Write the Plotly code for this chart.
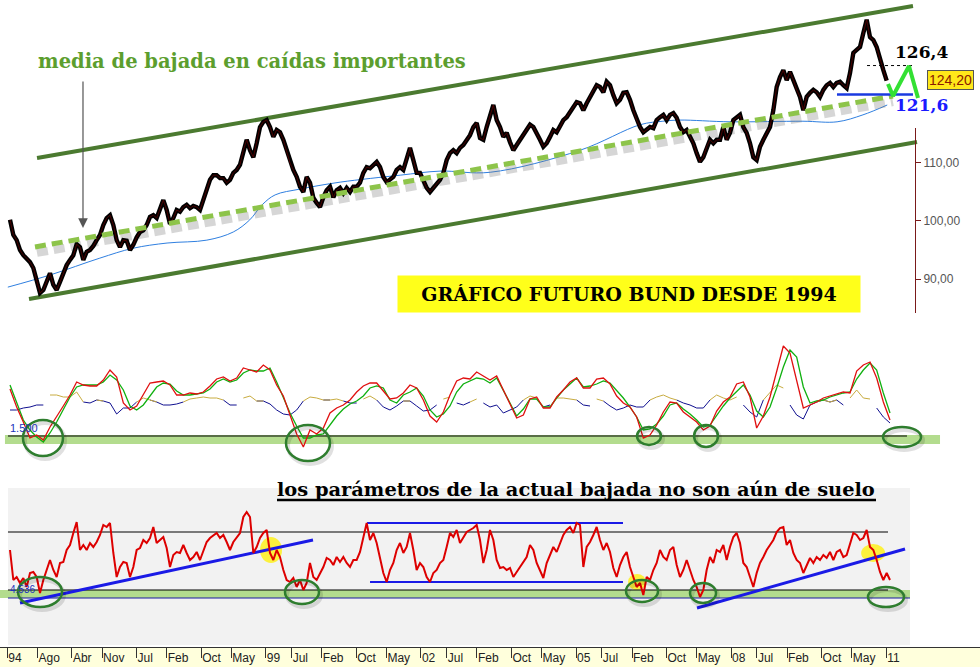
import plotly.graph_objects as go

# ---------------- time base ----------------
YEAR0 = 1993.8588          # decimal year at the left edge of the chart
BAR_YEARS = 0.064475       # one bar of the source chart in years
X_RANGE = [1993.8588, 2012.8143]

TICK_DATES = [(1994, 1), (1994, 8), (1995, 4), (1995, 11), (1996, 7), (1997, 2), (1997, 10),
              (1998, 5), (1999, 1), (1999, 7), (2000, 2), (2000, 10), (2001, 5), (2002, 1),
              (2002, 7), (2003, 2), (2003, 10), (2004, 5), (2005, 1), (2005, 7), (2006, 2),
              (2006, 10), (2007, 5), (2008, 1), (2008, 7), (2009, 2), (2009, 10), (2010, 5),
              (2011, 1)]
TICK_LABELS = ["94", "Ago", "Abr", "Nov", "Jul", "Feb", "Oct", "May", "99", "Jul", "Feb", "Oct",
               "May", "02", "Jul", "Feb", "Oct", "May", "05", "Jul", "Feb", "Oct", "May", "08",
               "Jul", "Feb", "Oct", "May", "11"]

# ---------------- top panel: Bund future ----------------
PRICE_FIRST_BAR = 3
PRICE = [100.2, 97.6, 96.7, 95.0, 94.1, 93.6, 92.9, 91.9, 89.8, 87.6,
         88.1, 89.5, 91.0, 89.0, 88.1, 89.5, 91.0, 92.4, 93.3, 94.1,
         96.0, 95.5, 93.3, 94.7, 95.0, 95.7, 96.7, 97.6, 99.3, 100.5,
         101.0, 99.3, 96.7, 95.5, 96.7, 96.6, 95.0, 95.9, 97.2, 98.1,
         98.4, 99.3, 100.7, 101.0, 100.5, 101.9, 103.6, 101.9, 99.5, 100.5,
         101.9, 101.6, 102.4, 102.8, 102.2, 102.6, 102.4, 101.9, 103.6, 105.3,
         107.1, 107.9, 107.9, 107.4, 107.4, 106.6, 107.1, 108.3, 108.8, 109.7,
         112.2, 114.0, 112.2, 111.0, 113.4, 116.2, 117.1, 117.4, 116.2, 114.5,
         115.7, 115.3, 114.0, 112.2, 110.0, 108.8, 107.6, 105.9, 105.0, 107.6,
         106.6, 104.0, 103.1, 102.4, 104.1, 105.3, 105.9, 104.1, 105.3, 105.7,
         104.8, 105.7, 105.0, 105.9, 105.9, 106.6, 108.3, 109.3, 109.1, 109.7,
         110.2, 109.3, 107.6, 106.7, 107.1, 107.6, 108.8, 109.3, 108.8, 110.5,
         112.6, 110.5, 108.3, 108.3, 107.1, 105.7, 105.0, 105.7, 106.2, 107.1,
         108.3, 110.5, 111.7, 112.2, 111.7, 112.6, 113.1, 114.0, 114.8, 116.2,
         116.9, 114.3, 114.0, 116.2, 117.9, 120.0, 117.4, 116.2, 114.5, 115.2,
         113.6, 112.2, 113.1, 114.0, 114.8, 115.7, 116.6, 116.2, 115.2, 114.0,
         112.8, 113.4, 114.5, 115.7, 115.3, 116.2, 117.4, 117.9, 118.8, 119.7,
         120.5, 120.3, 119.1, 120.3, 121.4, 122.6, 123.4, 123.1, 122.2, 124.0,
         123.4, 121.7, 120.3, 120.9, 122.1, 122.2, 120.9, 119.1, 117.4, 116.2,
         115.3, 115.7, 116.2, 116.0, 117.4, 117.9, 118.3, 117.4, 118.3, 118.6,
         117.8, 116.2, 115.3, 115.7, 114.5, 113.4, 111.7, 110.2, 111.0, 112.8,
         114.0, 113.4, 114.0, 114.0, 116.2, 114.0, 115.2, 117.4, 117.8, 118.3,
         116.2, 115.2, 113.4, 111.0, 110.5, 112.8, 114.0, 115.2, 116.2, 119.1,
         123.1, 124.8, 126.0, 124.3, 125.7, 124.3, 122.6, 121.4, 119.1, 121.4,
         122.1, 122.6, 122.2, 121.4, 122.6, 123.4, 123.8, 123.1, 123.8, 124.0,
         123.4, 122.9, 125.5, 129.0, 129.5, 130.0, 132.4, 134.7, 131.7, 131.2,
         130.0, 127.8, 126.0, 124.2]

MA_YEARS = [1994.01, 1994.83, 1995.79, 1996.43, 1997.09, 1997.86, 1998.37, 1998.69, 1998.93,
            1999.18, 1999.66, 2000.44, 2001.60, 2002.37, 2003.34, 2005.08, 2006.24, 2006.68,
            2007.01, 2007.98, 2009.39, 2010.05, 2010.55, 2011.02]
MA_VALUES = [88.6, 90.7, 93.6, 95.3, 96.2, 96.7, 98.1, 100.2, 102.8, 104.5, 105.5, 106.7, 107.9,
             108.6, 108.4, 112.2, 116.6, 117.2, 117.4, 117.1, 117.2, 117.1, 118.3, 120.0]

CHANNEL_UPPER_X = [1994.575, 2011.518]
CHANNEL_UPPER_Y = [110.86, 137.07]
CHANNEL_LOWER_X = [1994.420, 2011.596]
CHANNEL_LOWER_Y = [86.55, 113.62]
DOWN_AVG_X = [1994.536, 2011.132]
DOWN_AVG_Y = [95.52, 121.55]
SHADOW_X = [1994.575, 2011.132]
SHADOW_Y = [94.50, 120.50]
SUPPORT_LEVEL = 121.8
SUPPORT_X = [2010.048, 2011.518]
TARGET_LEVEL = 126.8
TARGET_X = [2010.629, 2011.518]
PATH_X = [2011.035, 2011.132, 2011.441, 2011.615]
PATH_Y = [123.62, 121.55, 126.72, 121.21]
ARROW_TIP = (1995.464, 98.8)
RIGHT_TICKS = [90, 100, 110]
RIGHT_TICK_TEXT = ["90,00", "100,00", "110,00"]
LAST_PRICE_TEXT = "124,20"

# ---------------- middle panel: oscillators ----------------
OSC_FIRST_BAR = 3
OSC_BAR_STEP = 2
OSC_RED = [1970, 1790, 1640, 1480, 1510, 1460, 1590, 1690, 1800, 1910,
           2040, 2010, 2000, 2000, 2060, 2160, 2090, 1830, 1760, 1800,
           1910, 2030, 2040, 2050, 2010, 1910, 1910, 1930, 1920, 1940,
           2000, 2070, 2090, 2050, 2080, 2180, 2160, 2140, 2210, 2160,
           2010, 1900, 1710, 1520, 1390, 1560, 1520, 1580, 1730, 1780,
           1810, 1860, 1940, 2000, 2030, 2030, 1950, 1870, 1880, 1930,
           2010, 1980, 1860, 1700, 1640, 1740, 1910, 2050, 2080, 2070,
           2140, 2100, 2060, 2100, 1960, 1830, 1680, 1710, 1870, 1890,
           1780, 1780, 1890, 1960, 2040, 2080, 1980, 1980, 2070, 2080,
           2020, 1900, 1830, 1790, 1690, 1480, 1510, 1610, 1740, 1840,
           1830, 1740, 1690, 1640, 1560, 1600, 1750, 1840, 1890, 2020,
           2040, 1890, 1580, 1700, 1890, 2160, 2400, 2330, 2070, 1780,
           1810, 1840, 1880, 1900, 1920, 1940, 1930, 2150, 2210, 2240,
           2080, 1840, 1660]
OSC_GREEN = [2010, 1840, 1660, 1560, 1490, 1440, 1530, 1640, 1760, 1890,
             1990, 2010, 2010, 2010, 2040, 2110, 2060, 1960, 1800, 1760,
             1810, 1900, 1990, 2030, 2020, 1950, 1910, 1910, 1920, 1930,
             1970, 2040, 2070, 2040, 2060, 2130, 2160, 2150, 2150, 2180,
             2040, 1880, 1730, 1600, 1480, 1480, 1510, 1520, 1610, 1700,
             1770, 1820, 1850, 1900, 1980, 2000, 1980, 1860, 1830, 1910,
             1940, 1980, 1900, 1760, 1690, 1720, 1800, 1940, 2020, 2050,
             2080, 2070, 2030, 2080, 1960, 1830, 1700, 1770, 1870, 1870,
             1790, 1790, 1880, 1960, 2020, 2080, 1990, 2000, 2020, 2050,
             2030, 1960, 1880, 1790, 1690, 1560, 1570, 1620, 1700, 1810,
             1830, 1770, 1720, 1660, 1590, 1610, 1710, 1800, 1880, 1950,
             2010, 1910, 1750, 1690, 1790, 1980, 2190, 2360, 2290, 1990,
             1830, 1850, 1860, 1890, 1910, 1930, 1940, 2070, 2160, 2230,
             2160, 1930, 1730]
OSC_SIGNAL = [1760, 1760, 1780, 1790, 1810, 1810, 1910, 1910, 1890, 1890,
              1940, 1840, 1830, 1860, 1850, 1830, 1720, 1780, 1780, 1840,
              1880, 1860, 1840, 1810, 1810, 1820, 1840, 1870, 1880, 1890,
              1880, 1880, 1860, 1810, 1810, 1880, 1900, 1850, 1850, 1820,
              1760, 1720, 1710, 1760, 1850, 1890, 1880, 1860, 1860, 1870,
              1850, 1830, 1830, 1870, 1900, 1860, 1790, 1760, 1800, 1850,
              1850, 1800, 1750, 1760, 1810, 1870, 1890, 1830, 1810, 1840,
              1870, 1830, 1790, 1810, 1730, 1760, 1790, 1860, 1900, 1880,
              1790, 1810, 1880, 1880, 1870, 1860, 1810, 1800, 1870, 1850,
              1800, 1760, 1780, 1810, 1790, 1790, 1860, 1890, 1910, 1880,
              1860, 1830, 1810, 1780, 1780, 1860, 1910, 1880, 1860, 1890,
              1810, 1740, 1690, 1860, 1930, 2010, 1980, 1810, 1710, 1670,
              1810, 1840, 1860, 1840, 1860, 1810, 1880, 1960, 1880, 1870,
              1780, 1690, 1630]
SIGNAL_SPLIT = 1845
OSC_LEVEL = 1500
OSC_BAND_LEVEL = 1465
OSC_LEVEL_X = [1994.013, 2011.402]
OSC_BAND_X = [1993.955, 2012.041]
OSC_CIRCLES = [(1994.690, 1480, 20, 18), (1999.816, 1430, 22, 18), (2006.412, 1500, 12, 9),
               (2007.515, 1500, 12, 11), (2011.306, 1490, 19, 10)]

# ---------------- bottom panel ----------------
RSI_FIRST_BAR = 3
RSI = [5000, 4700, 4730, 4670, 4720, 4630, 4770, 4780, 4730, 4570,
       4700, 4800, 4900, 4800, 4730, 4870, 4880, 5000, 5050, 5170,
       5280, 5000, 5050, 5000, 5070, 5030, 5080, 5150, 5250, 5230,
       5270, 4970, 4730, 4830, 4880, 4870, 4730, 4830, 5000, 5020,
       5100, 5070, 5120, 5230, 5070, 5100, 5130, 5020, 4830, 4950,
       4980, 4970, 5050, 4970, 4900, 4930, 4980, 4900, 5000, 5080,
       5120, 5150, 5170, 5120, 5150, 5080, 5000, 5080, 5130, 5170,
       5330, 5380, 5330, 4970, 5030, 5120, 5170, 5200, 4970, 4900,
       5000, 4930, 4800, 4700, 4680, 4720, 4630, 4700, 4600, 4670,
       4870, 4730, 4700, 4770, 4830, 4920, 4900, 4850, 4930, 4880,
       4930, 4870, 4830, 4900, 4900, 4980, 5120, 5270, 5100, 5170,
       5070, 4930, 4770, 4680, 4800, 4870, 5000, 5070, 4970, 5030,
       5170, 5000, 4800, 4870, 4830, 4730, 4680, 4770, 4800, 4870,
       4900, 5030, 5170, 5130, 5200, 5070, 5130, 5180, 5200, 5220,
       5250, 5100, 4870, 5000, 5200, 5100, 4900, 4820, 4830, 4800,
       4820, 4730, 4780, 4830, 4880, 4930, 5050, 5000, 4870, 4800,
       4720, 4870, 4950, 5030, 4980, 5070, 5150, 5200, 5230, 5170,
       5270, 5250, 4830, 5030, 5080, 5150, 5230, 5100, 5000, 5070,
       4980, 4820, 4730, 4850, 4930, 4980, 4830, 4730, 4630, 4670,
       4550, 4730, 4700, 4800, 4870, 5000, 4930, 4900, 5000, 5030,
       4850, 4730, 4800, 4900, 4800, 4700, 4630, 4530, 4600, 4800,
       4930, 4870, 5000, 4980, 5050, 4900, 5030, 5130, 5170, 5070,
       4870, 4830, 4730, 4630, 4770, 4870, 4930, 5000, 5050, 5100,
       5180, 5220, 5230, 5050, 5100, 4970, 4900, 4870, 4770, 4850,
       4920, 4870, 4930, 4900, 4950, 4920, 4980, 4900, 4980, 5000,
       4930, 4950, 5050, 5170, 5150, 5100, 5120, 5200, 5030, 5000,
       4900, 4780, 4700, 4770, 4700]
RSI_UPPER = 5180
RSI_LOWER = 4600
RSI_FLOOR = 4520
RSI_BAND = 4560
RSI_LEVEL_X = [1994.013, 2011.035]
RSI_FLOOR_X = [1994.013, 2011.460]
RSI_BAND_X = [1993.859, 2011.460]
TREND_LINES = [([1994.246, 1999.913], [4470, 5100], 3),
               ([2000.958, 2005.909], [5270, 5270], 2),
               ([2001.016, 2005.909], [4680, 4680], 2),
               ([2007.340, 2011.364], [4420, 5010], 3)]
RSI_CIRCLES = [(1994.633, 4580, 22, 15), (1999.700, 4580, 17, 12), (2006.277, 4590, 16, 11),
               (2007.457, 4570, 13, 10), (2010.996, 4530, 18, 10)]
HIGHLIGHTS = [(1999.101, 5000, 11, 13), (2006.180, 4680, 9, 8), (2010.747, 4970, 12, 9)]


def bars_to_years(first, n, step=1):
    return [YEAR0 + (first + step * k) * BAR_YEARS for k in range(n)]


W, H = 980, 667
SERIF = "DejaVu Serif"
SANS = "Liberation Sans"

fig = go.Figure()


def line(x, y, color, width, yaxis="y", dash=None, opacity=1.0, shape="linear"):
    fig.add_trace(go.Scatter(x=x, y=y, mode="lines", yaxis=yaxis, xaxis="x",
                             line=dict(color=color, width=width, dash=dash, shape=shape),
                             opacity=opacity, hoverinfo="skip", showlegend=False,
                             connectgaps=False))


# ---- top panel
px_years = bars_to_years(PRICE_FIRST_BAR, len(PRICE))
line(CHANNEL_UPPER_X, CHANNEL_UPPER_Y, "#4b7a30", 4)
line(CHANNEL_LOWER_X, CHANNEL_LOWER_Y, "#4b7a30", 4)
line(MA_YEARS, MA_VALUES, "#2f7fe0", 1, shape="spline")
line(SHADOW_X, SHADOW_Y, "#7a7a7a", 8, dash="11px,6px", opacity=0.3)
line(px_years, PRICE, "#000000", 4.4)
line(px_years, PRICE, "#8b0000", 0.9, opacity=0.6)
line(DOWN_AVG_X, DOWN_AVG_Y, "#8dc44a", 5, dash="11px,6px")
line(SUPPORT_X, [SUPPORT_LEVEL] * 2, "#1a3ae0", 2.5)
line(TARGET_X, [TARGET_LEVEL] * 2, "#000000", 1, dash="dot")
line(PATH_X, PATH_Y, "#33e033", 4)
# hidden trace to show the right-hand price axis
fig.add_trace(go.Scatter(x=[X_RANGE[0]], y=[100], yaxis="y4", xaxis="x", mode="markers",
                         marker=dict(opacity=0), hoverinfo="skip", showlegend=False))

# ---- middle panel
osc_years = bars_to_years(OSC_FIRST_BAR, len(OSC_RED), OSC_BAR_STEP)
line(OSC_BAND_X, [OSC_BAND_LEVEL] * 2, "#b3dc8e", 9, yaxis="y2")
line(OSC_LEVEL_X, [OSC_LEVEL] * 2, "#000000", 1.2, yaxis="y2")
sig_blue = [v if v <= SIGNAL_SPLIT + 15 else None for v in OSC_SIGNAL]
sig_olive = [v if v >= SIGNAL_SPLIT - 5 else None for v in OSC_SIGNAL]
line(osc_years, sig_blue, "#101090", 1, yaxis="y2")
line(osc_years, sig_olive, "#c8ac40", 1, yaxis="y2")
line(osc_years, OSC_GREEN, "#10b010", 1.3, yaxis="y2")
line(osc_years, OSC_RED, "#e01010", 1.3, yaxis="y2")

# ---- bottom panel
rsi_years = bars_to_years(RSI_FIRST_BAR, len(RSI))
line(RSI_BAND_X, [RSI_BAND] * 2, "#b3dc8e", 8, yaxis="y3")
line(RSI_LEVEL_X, [RSI_UPPER] * 2, "#000000", 1, yaxis="y3")
line(RSI_LEVEL_X, [RSI_LOWER] * 2, "#000000", 1, yaxis="y3")
line(RSI_FLOOR_X, [RSI_FLOOR] * 2, "#1a1aa0", 1, yaxis="y3")
for xs, ys, w in TREND_LINES:
    line(xs, ys, "#1a1ae6", w, yaxis="y3")
line(rsi_years, RSI, "#dd0000", 2, yaxis="y3")

# ---------------- shapes ----------------
shapes = []
# bottom panel grey background and date strip
shapes.append(dict(type="rect", xref="paper", yref="paper", x0=8 / W, x1=910 / W,
                   y0=1 - 645 / H, y1=1 - 488 / H, fillcolor="#f2f2f2", line=dict(width=0),
                   layer="below"))
shapes.append(dict(type="rect", xref="paper", yref="paper", x0=0, x1=1,
                   y0=0, y1=1 - 647 / H, fillcolor="#ffffdc", line=dict(width=0),
                   layer="below"))
# underline of the bottom title
shapes.append(dict(type="line", xref="paper", yref="paper", x0=277 / W, x1=876 / W,
                   y0=1 - 500 / H, y1=1 - 500 / H, line=dict(color="#000", width=2.5)))


def ellipse(cx, cy, rx, ry, yref, color, width, fill=None, layer="above", dx=0, dy=0):
    d = dict(type="circle", xref="x", yref=yref, xsizemode="pixel", ysizemode="pixel",
             xanchor=cx, yanchor=cy, x0=-rx + dx, x1=rx + dx, y0=-ry + dy, y1=ry + dy,
             line=dict(color=color, width=width), layer=layer)
    if fill:
        d["fillcolor"] = fill
    return d


for cx, cy, rx, ry in HIGHLIGHTS:
    shapes.append(ellipse(cx, cy, rx, ry, "y3", "rgba(0,0,0,0)", 0,
                          fill="rgba(255,240,0,0.75)", layer="below"))
for circles, yref in ((OSC_CIRCLES, "y2"), (RSI_CIRCLES, "y3")):
    for cx, cy, rx, ry in circles:
        shapes.append(ellipse(cx, cy, rx, ry, yref, "rgba(0,0,0,0.12)", 4, dx=2, dy=-3))
        shapes.append(ellipse(cx, cy, rx, ry, yref, "#2e7d2e", 2.5))

# ---------------- annotations ----------------
def note(text, x, y, size, color, family=SERIF, xanchor="center", **kw):
    d = dict(text=text, xref="paper", yref="paper", x=x / W, y=1 - y / H, showarrow=False,
             xanchor=xanchor, yanchor="middle", font=dict(family=family, size=size, color=color))
    d.update(kw)
    return d


ann = [
    note("<b>media de bajada en caídas importantes</b>", 252, 62, 19.5, "#5c9e2e"),
    dict(text="", xref="x", yref="y", x=ARROW_TIP[0], y=ARROW_TIP[1], ax=0, ay=-148,
         showarrow=True, arrowhead=2, arrowsize=1.6, arrowwidth=1.2, arrowcolor="#555"),
    note("<b>GRÁFICO FUTURO BUND DESDE 1994</b>", 629, 294, 19, "#000000",
         bgcolor="#ffff1a", width=446, height=20, borderpad=8),
    note("<b>126,4</b>", 921, 52, 17, "#000000"),
    note("<b>121,6</b>", 921, 105, 17, "#1a1aff"),
    note(LAST_PRICE_TEXT, 950, 79.5, 14, "#8b1a00", family=SANS, bgcolor="#ffe81a",
         bordercolor="#555", borderwidth=1, borderpad=1),
    note("1.500", 8, 428, 11, "#2233bb", family=SANS, xanchor="left"),
    note("4.536", 8, 589, 10, "#2233bb", family=SANS, xanchor="left"),
    note("<b>los parámetros de la actual bajada no son aún de suelo</b>", 576, 489, 19.4,
         "#000000"),
]

fig.update_layout(
    width=W, height=H, margin=dict(l=0, r=0, t=0, b=0, autoexpand=False),
    paper_bgcolor="#ffffff", plot_bgcolor="rgba(0,0,0,0)", showlegend=False,
    shapes=shapes, annotations=ann,
    xaxis=dict(domain=[0, 1], range=X_RANGE, anchor="y3", showgrid=False, zeroline=False,
               showline=True, linecolor="#333", linewidth=1, ticks="outside", ticklen=10,
               tickcolor="#333", tickvals=[y + (m - 1) / 12 for y, m in TICK_DATES],
               ticktext=TICK_LABELS, ticklabelposition="outside right", tickangle=0,
               automargin=False, tickfont=dict(family=SANS, size=12, color="#222")),
    yaxis=dict(domain=[1 - 313 / H, 1], range=[84.14, 138.10], visible=False),
    yaxis2=dict(domain=[1 - 470 / H, 1 - 335 / H], range=[1160, 2510], visible=False),
    yaxis3=dict(domain=[1 - 647 / H, 1 - 488 / H], range=[4030, 5620], visible=False),
    yaxis4=dict(domain=[1 - 313 / H, 1 - 128 / H], range=[84.14, 116.03], anchor="free",
                position=915 / W, side="right", showline=True, linecolor="#7a1a1a",
                linewidth=1, ticks="outside", ticklen=5, tickcolor="#7a1a1a",
                automargin=False, tickvals=RIGHT_TICKS, ticktext=RIGHT_TICK_TEXT,
                showgrid=False, zeroline=False,
                tickfont=dict(family=SANS, size=12, color="#555")),
)

fig.write_html("out.html", config={"displayModeBar": False},
               post_script="document.body.style.margin='0px';")
